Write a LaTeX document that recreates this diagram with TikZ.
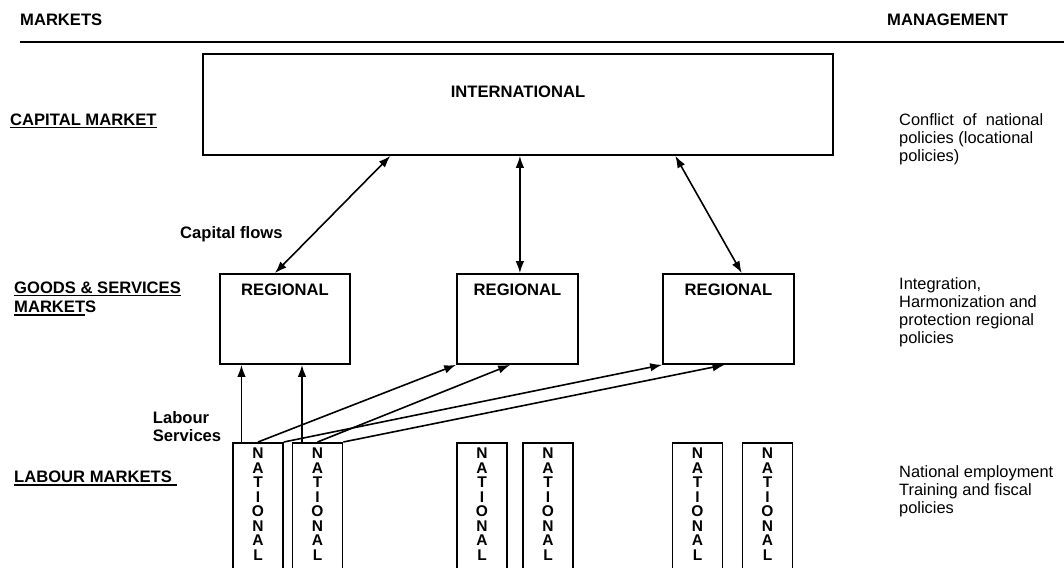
\documentclass[tikz,border=0pt]{standalone}
\usepackage{fontspec}
\setmainfont{Liberation Sans}
\usetikzlibrary{calc,arrows.meta}

% text with a solid rule under it
\newcommand{\ulbox}[1]{\leavevmode\setbox0\hbox{#1}\rlap{\rule[-3pt]{\wd0}{1.4pt}}\box0}
% the word NATIONAL set letter by letter down a tall box
\newcommand{\natword}{\parbox[t][150pt][t]{50pt}{\centering\rule{0pt}{16pt}N\\A\\T\\I\\O\\N\\A\\L}}

\begin{document}
\begin{tikzpicture}[x=1pt,y=-1pt,
  bx/.style={draw, line width=1.7pt, inner sep=0pt},
  hdr/.style={font=\bfseries\fontsize{16.6}{18.5}\selectfont, inner sep=0pt},
  txt/.style={font=\fontsize{16.4}{18}\selectfont, inner sep=0pt},
  natbox/.style={bx, anchor=north, font=\bfseries\fontsize{15.5}{14.5}\selectfont},
  flow/.style={line width=1.6pt, -{Latex[length=12pt,width=8.5pt]}},
  both/.style={line width=1.6pt, {Latex[length=12pt,width=8.5pt]}-{Latex[length=12pt,width=8.5pt]}}]
\useasboundingbox (0,0) rectangle (1064,567);
\clip (0,0) rectangle (1064,567);

% column headings and rule
\node[hdr, anchor=base west] (hmk) at (20,25.5) {MARKETS};
\node[hdr, anchor=base west] (hmg) at (887,25.5) {MANAGEMENT};
\coordinate (rulel) at (20,42);
\coordinate (ruler) at (1064,42);
\draw[line width=1.7pt] (rulel) -- (ruler);

% market levels
\node[bx, minimum width=630pt, minimum height=101pt] (intl) at (518,104.5) {};
\node[hdr, anchor=base] (intlt) at ([yshift=-44pt]intl.north) {INTERNATIONAL};

\node[bx, minimum width=130pt, minimum height=90pt] (reg1) at (285,319) {};
\node[bx, minimum width=121pt, minimum height=90pt] (reg2) at (517.5,319) {};
\node[bx, minimum width=131pt, minimum height=90pt] (reg3) at (728.5,319) {};
\node[hdr, anchor=base] (reg1t) at ([yshift=-22pt]reg1.north) {REGIONAL};
\node[hdr, anchor=base] (reg2t) at ([yshift=-22pt]reg2.north) {REGIONAL};
\node[hdr, anchor=base] (reg3t) at ([yshift=-22pt]reg3.north) {REGIONAL};

\node[natbox] (n1) at (258,442) {\natword};
\node[natbox] (n2) at (317.5,442) {\natword};
\node[natbox] (n3) at (482,442) {\natword};
\node[natbox] (n4) at (548,442) {\natword};
\node[natbox] (n5) at (697.5,442) {\natword};
\node[natbox] (n6) at (767.5,442) {\natword};

% capital flows between international and regional
\draw[both] ($(reg1.north west)!0.423!(reg1.north east)$) -- ($(intl.south west)!0.298!(intl.south east)$);
\coordinate (imid) at ($(intl.south west)!0.503!(intl.south east)$);
\draw[both] (imid) -- (imid |- reg2.north);
\draw[both] ($(reg3.north west)!0.60!(reg3.north east)$) -- ($(intl.south west)!0.749!(intl.south east)$);

% labour services from national to regional
\coordinate (up1) at ($(n1.north west)!0.18!(n1.north east)$);
\coordinate (up2) at ($(n2.north west)!0.2!(n2.north east)$);
\draw[flow] (up1) -- (up1 |- reg1.south);
\draw[flow] (up2) -- (up2 |- reg1.south);
\draw[flow] (n1.north) -- (reg2.south west);
\draw[flow] (n1.north east) -- (reg3.south west);
\draw[flow] (n2.north) -- ($(reg2.south west)!0.44!(reg2.south east)$);
\draw[flow] (n2.north east) -- ($(reg3.south west)!0.47!(reg3.south east)$);

% row labels
\node[hdr, anchor=base west] (lcap) at (10,125) {\ulbox{CAPITAL MARKET}};
\node[hdr, anchor=base west, font=\bfseries\fontsize{16.6}{19.4}\selectfont] (lgood) at (14,293.3)
  {\parbox[t]{200pt}{\ulbox{GOODS \& SERVICES}\\\ulbox{MARKET}S}};
\node[hdr, anchor=base west] (llab) at (14,482.7) {\ulbox{LABOUR MARKETS\ }};

\node[hdr, anchor=base west] (cflow) at (180,238) {Capital flows};
\node[hdr, anchor=base west] (lserv) at (152.7,423.3) {\parbox[t]{80pt}{Labour\\Services}};

% management column
\node[txt, anchor=base west] (mg1) at (899,125)
  {\parbox[t]{165pt}{\makebox[144pt][s]{Conflict of national}\\policies (locational\\policies)}};
\node[txt, anchor=base west] (mg2) at (899,289)
  {\parbox[t]{165pt}{Integration,\\Harmonization and\\protection regional\\policies}};
\node[txt, anchor=base west] (mg3) at (899,477)
  {\parbox[t]{165pt}{National employment\\Training and fiscal\\policies}};
\end{tikzpicture}
\end{document}
